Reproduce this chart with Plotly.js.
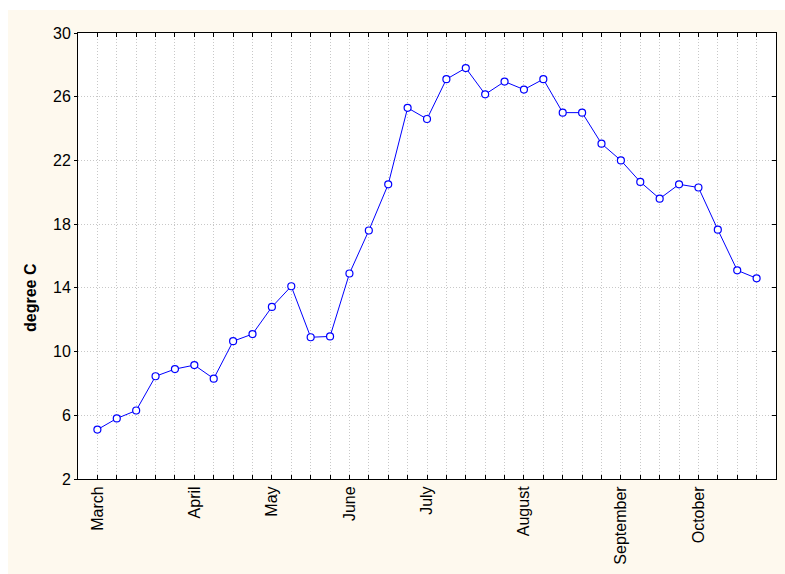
<!DOCTYPE html>
<html>
<head>
<meta charset="utf-8">
<script src="https://cdn.plot.ly/plotly-3.0.1.min.js"></script>
<style>
  html, body { margin: 0; padding: 0; background: #ffffff; }
  #chart { position: absolute; left: 8px; top: 10px; width: 777px; height: 564px; }
</style>
</head>
<body>
<div id="chart"></div>
<script>
// Temperature readings (degree C), one per sampling step
const temps = [5.1, 5.8, 6.3, 8.45, 8.9, 9.15, 8.3, 10.65, 11.1, 12.8,
               14.1, 10.9, 10.95, 14.9, 17.6, 20.5, 25.3, 24.6, 27.1, 27.8,
               26.15, 26.95, 26.45, 27.1, 25.0, 25.0, 23.05, 22.0, 20.65, 19.6,
               20.5, 20.3, 17.65, 15.1, 14.6];
// Month labels and the sample index where each appears
const monthNames = ["March", "April", "May", "June", "July", "August", "September", "October"];
const monthIdx = [0, 5, 9, 13, 17, 22, 27, 31];
const yTicks = [2, 6, 10, 14, 18, 22, 26, 30];
const yTitle = "degree C";

const xIdx = temps.map((_, i) => i);
const tickText = xIdx.map(i => {
  const k = monthIdx.indexOf(i);
  return k >= 0 ? monthNames[k] : "";
});

const font = { family: "Liberation Sans, Arial, sans-serif", size: 16, color: "#000000" };

const traces = [
  {
    x: xIdx, y: temps, type: "scatter", mode: "lines+markers",
    line: { color: "#0000ff", width: 1 },
    marker: { symbol: "circle", size: 7, color: "#ffffff", line: { color: "#0000ff", width: 1.2 } },
    hoverinfo: "x+y", showlegend: false
  },
  {
    x: xIdx, y: temps, type: "scatter", mode: "markers", yaxis: "y2",
    marker: { opacity: 0 }, hoverinfo: "skip", showlegend: false
  }
];

const layout = {
  width: 777, height: 564,
  margin: { l: 70, r: 9, t: 23, b: 95 },
  paper_bgcolor: "#fef9ee",
  plot_bgcolor: "#ffffff",
  font: font,
  showlegend: false,
  xaxis: {
    range: [-1, 35],
    tickmode: "array", tickvals: xIdx, ticktext: tickText,
    tickangle: -90,
    ticks: "inside", ticklen: 4, tickcolor: "#000000",
    showline: true, linecolor: "#000000", linewidth: 1, mirror: "ticks",
    showgrid: true, gridcolor: "#c8c8c8", gridwidth: 1, griddash: "1px,2px",
    zeroline: false,
    tickfont: { family: font.family, size: 16, color: "#000000" }
  },
  yaxis: {
    range: [2, 30],
    tickmode: "array", tickvals: yTicks,
    ticks: "outside", ticklen: 3, tickcolor: "#000000",
    showline: true, linecolor: "#000000", linewidth: 1, mirror: true,
    showgrid: true, gridcolor: "#c8c8c8", gridwidth: 1, griddash: "1px,2px",
    zeroline: false,
    tickfont: { family: font.family, size: 16, color: "#000000" }
  },
  yaxis2: {
    overlaying: "y", side: "right", range: [2, 30],
    tickmode: "array", tickvals: yTicks,
    ticks: "inside", ticklen: 4, tickcolor: "#000000",
    showticklabels: false, showgrid: false, zeroline: false, showline: false
  },
  annotations: [{
    text: "<b>" + yTitle + "</b>", xref: "paper", yref: "paper",
    x: -0.0688, y: 0.408, xanchor: "center", yanchor: "middle",
    textangle: -90, showarrow: false,
    font: { family: font.family, size: 16, color: "#000000" }
  }]
};

Plotly.newPlot("chart", traces, layout, { displayModeBar: false, staticPlot: true });
</script>
</body>
</html>
